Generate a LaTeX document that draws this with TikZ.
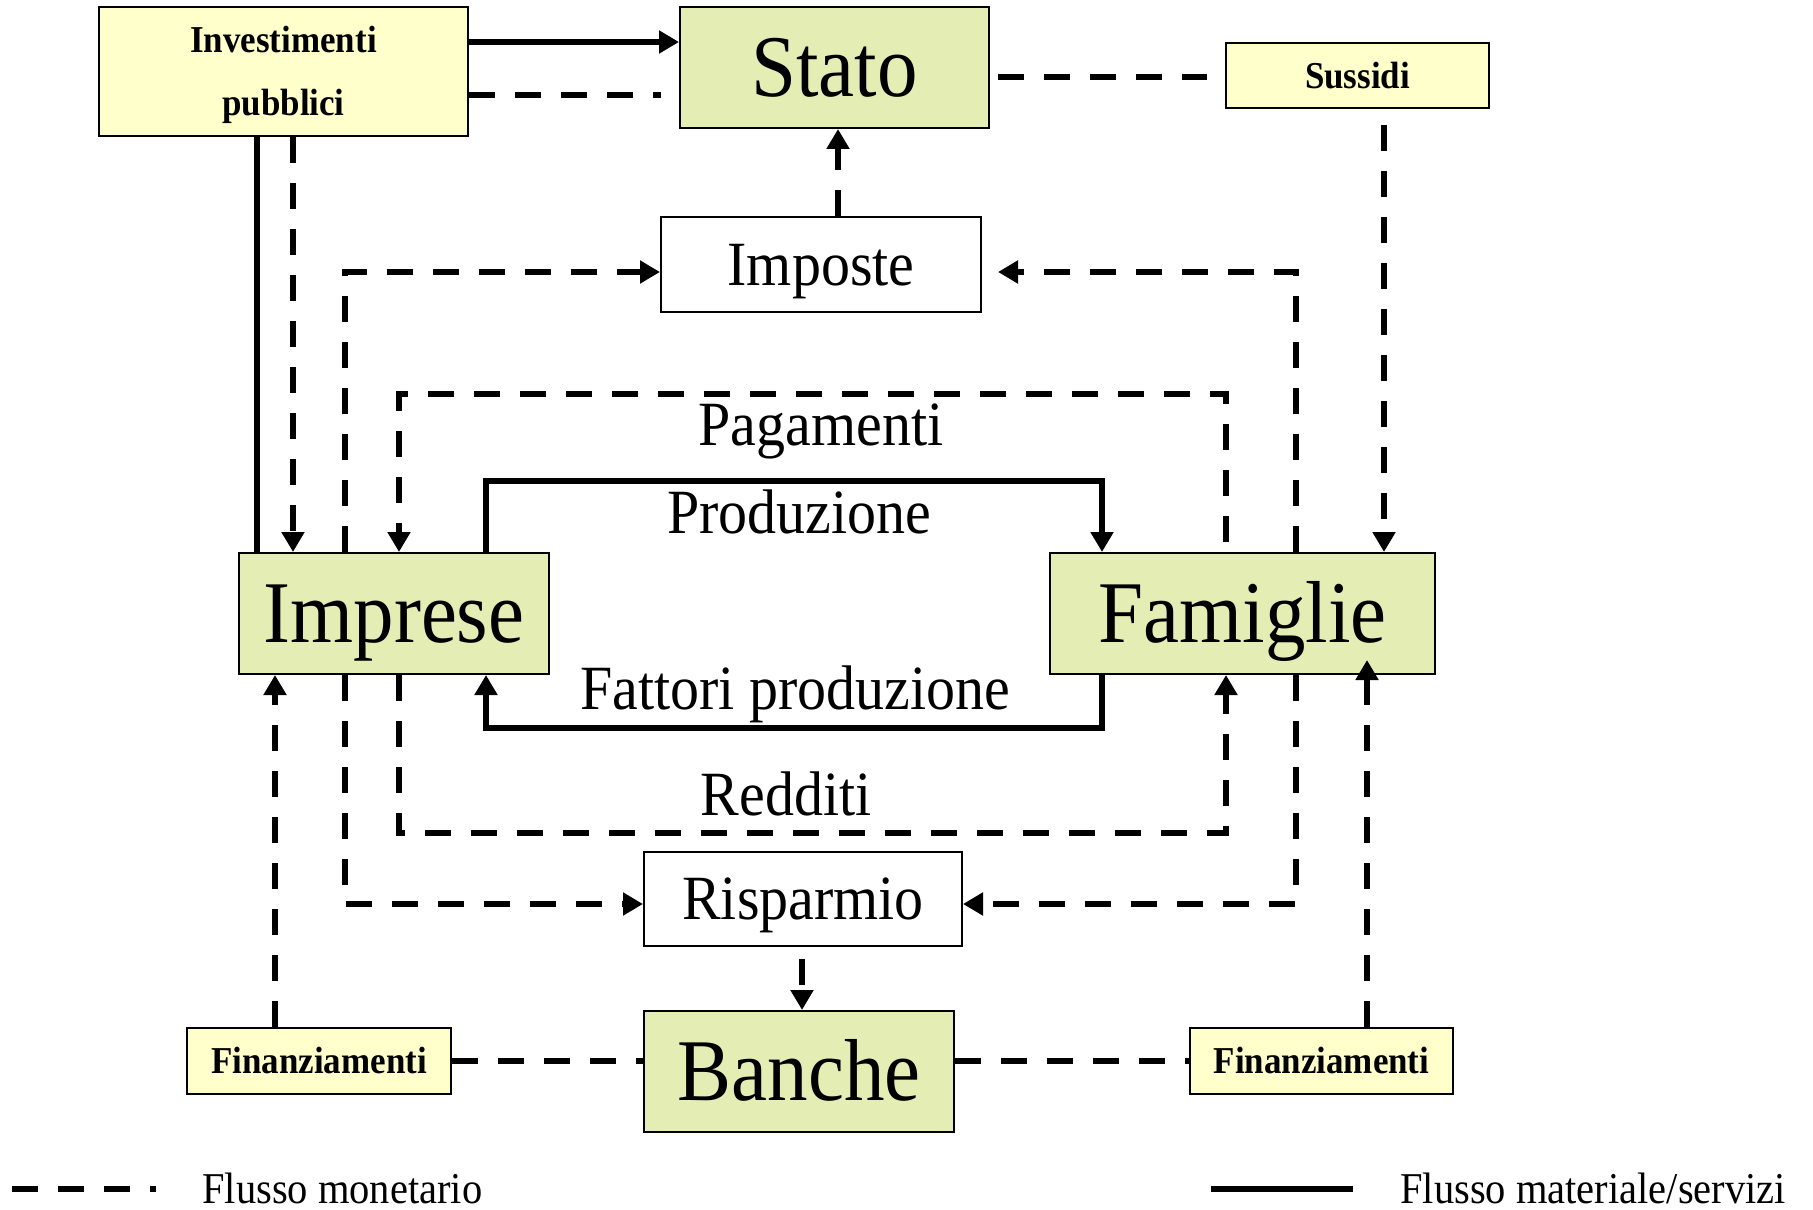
\documentclass[tikz,border=0pt]{standalone}
\usepackage{fontspec}
\setmainfont{Liberation Serif}[FakeStretch=0.92]
\usetikzlibrary{arrows.meta}
\definecolor{boxgreen}{HTML}{E4EEB4}
\definecolor{boxyellow}{HTML}{FFFFCC}
\begin{document}
\begin{tikzpicture}[x=0.5pt,y=-0.5pt,
  sz/.style 2 args={minimum width=#1*0.5pt, minimum height=#2*0.5pt},
  box/.style={draw=black, line width=1pt, inner sep=0pt, text depth=0pt},
  big/.style={box, fill=boxgreen, font=\fontsize{44}{44}\selectfont, text height=29pt},
  mid/.style={box, fill=white, font=\fontsize{31.5}{31.5}\selectfont, text height=20.9pt},
  small/.style={box, fill=boxyellow, font=\fontsize{19}{19}\selectfont\bfseries, text height=12.6pt},
  lbl/.style={inner sep=0pt, font=\fontsize{31.5}{31.5}\selectfont, anchor=base},
  legend/.style={inner sep=0pt, font=\fontsize{22}{22}\selectfont, text height=14.5pt, text depth=0pt, anchor=west},
  money/.style={line width=3.25pt, dash pattern=on 13pt off 10pt},
  goods/.style={line width=3.25pt},
  tip/.style={-{Triangle[length=10pt,width=11pt]}},
]
\useasboundingbox (0,0) rectangle (1813,1209);

% boxes
\node[small, sz={369}{129}, align=center, font=\fontsize{19}{31.5}\selectfont\bfseries, text height=44.5pt, text depth=0pt] (inv) at (283.5,71.5) {Investimenti\\pubblici};
\node[big, sz={309}{121}] (stato) at (834.5,67.5) {Stato};
\node[small, sz={263}{65}] (sussidi) at (1357.5,75.5) {Sussidi};
\node[mid, sz={320}{95}] (imposte) at (821,264.5) {Imposte};
\node[big, sz={310}{121}] (imprese) at (394,613.5) {Imprese};
\node[big, sz={385}{121}] (famiglie) at (1242.5,613.5) {Famiglie};
\node[mid, sz={318}{94}] (risparmio) at (803,899) {Risparmio};
\node[big, sz={310}{121}] (banche) at (799,1071.5) {Banche};
\node[small, sz={264}{66}] (finL) at (319,1061) {Finanziamenti};
\node[small, sz={263}{66}] (finR) at (1321.5,1061) {Finanziamenti};

% flow labels
\node[lbl] (pag) at (821,445) {Pagamenti};
\node[lbl] (prod) at (799,533) {Produzione};
\node[lbl] (fatt) at (795,709) {Fattori produzione};
\node[lbl] (red) at (786,815) {Redditi};

% connectors
\draw[goods,tip] (inv.east |- 0,42) -- (stato.west |- 0,42);
\draw[money,shorten >=9pt] (inv.east |- 0,95) -- (stato.west |- 0,95);
\draw[money,shorten <=4pt,shorten >=9pt] (stato.east |- 0,77) -- (sussidi.west |- 0,77);
\draw[money,tip,shorten <=8pt] (sussidi.south -| 1384,0) -- (famiglie.north -| 1384,0);
\draw[money,tip] (imposte.north -| 838,0) -- (stato.south -| 838,0);
\draw[goods] (inv.south -| 257,0) -- (imprese.north -| 257,0);
\draw[money,tip] (inv.south -| 293,0) -- (imprese.north -| 293,0);
\draw[money,tip] (imprese.north -| 345,0) |- (imposte.west |- 0,272);
\draw[money,tip,shorten >=8pt] (famiglie.north -| 1296,0) |- (imposte.east |- 0,272);
\draw[money,tip,shorten <=5pt] (famiglie.north -| 1226,0) -- (1226,394) -- (399,394) -- (imprese.north -| 399,0);
\draw[goods,tip] (imprese.north -| 486,0) -- (486,481) -- (1102,481) -- (famiglie.north -| 1102,0);
\draw[goods,tip] (famiglie.south -| 1102,0) -- (1102,728) -- (486,728) -- (imprese.south -| 486,0);
\draw[money,tip] (imprese.south -| 399,0) -- (399,833) -- (1226,833) -- (famiglie.south -| 1226,0);
\draw[money,tip] (imprese.south -| 345,0) |- (risparmio.west |- 0,904);
\draw[money,tip] (famiglie.south -| 1296,0) |- (risparmio.east |- 0,904);
\draw[money,tip,shorten <=6pt] (risparmio.south -| 802,0) -- (banche.north -| 802,0);
\draw[money] (finL.east) -- (banche.west |- finL.east);
\draw[money] (banche.east |- finR.west) -- (finR.west);
\draw[money,tip] (finL.north -| 275,0) -- (imprese.south -| 275,0);
\draw[money,tip,shorten >=-7.5pt] (finR.north -| 1367,0) -- (famiglie.south -| 1367,0);

% legend
\coordinate (lm1) at (12,1189);
\coordinate (lm2) at (156,1189);
\draw[money] (lm1) -- (lm2);
\node[legend] (lmt) at (202,1189) {Flusso monetario};
\coordinate (lg1) at (1211,1189);
\coordinate (lg2) at (1353,1189);
\draw[goods] (lg1) -- (lg2);
\node[legend] (lgt) at (1400,1189) {Flusso materiale/servizi};
\end{tikzpicture}
\end{document}
